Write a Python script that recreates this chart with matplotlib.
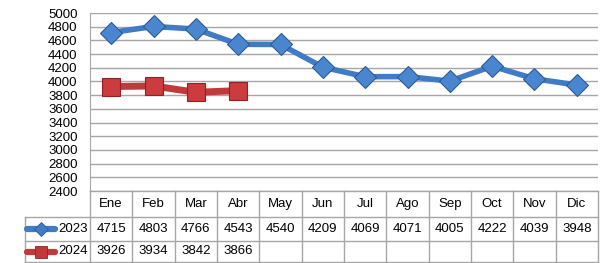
import matplotlib
matplotlib.use("Agg")
import matplotlib.pyplot as plt
from matplotlib.lines import Line2D

months = ["Ene", "Feb", "Mar", "Abr", "May", "Jun", "Jul", "Ago", "Sep", "Oct", "Nov", "Dic"]
v2023 = [4715, 4803, 4766, 4543, 4540, 4209, 4069, 4071, 4005, 4222, 4039, 3948]
v2024 = [3926, 3934, 3842, 3866]
series_names = ["2023", "2024"]
yticks = list(range(2400, 5001, 200))

plt.rcParams['font.family'] = ['Liberation Sans', 'DejaVu Sans']

W, H = 604, 263
fig = plt.figure(figsize=(W / 100, H / 100), dpi=100)

# pixel layout
left, right, top, bottom = 90, 598, 13, 191
ax = fig.add_axes([left / W, 1 - bottom / H, (right - left) / W, (bottom - top) / H])

blue, blue_edge = "#3F7CC5", "#2C5C96"
red, red_edge = "#C0393B", "#8E2325"

x = list(range(len(months)))
ax.plot(x, v2023, color=blue, lw=4, marker="D", ms=11.5, mfc="#4A86D0", mec=blue_edge,
        mew=0.8, solid_capstyle="round", zorder=3)
ax.plot(x[:len(v2024)], v2024, color=red, lw=5, marker="s", ms=13, mfc="#CC3B3D", mec=red_edge,
        mew=0.8, zorder=3)

ax.set_xlim(-0.5, len(months) - 0.5)
ax.set_ylim(2400, 5000)
ax.set_yticks(yticks)
ax.set_xticks([])
ax.tick_params(axis="y", length=0, pad=9, labelsize=9.5)
ax.grid(axis="y", color="#A6A6A6", lw=1)
ax.set_axisbelow(True)
for s in ["top", "right", "bottom"]:
    ax.spines[s].set_visible(False)
ax.spines["left"].set_color("#A6A6A6")

# data table below the plot
tleft = 25
tab = fig.add_axes([0, 0, 1, 1], facecolor="none")
tab.set_xlim(0, W)
tab.set_ylim(H, 0)
tab.axis("off")
colw = (right - left) / len(months)
rows = [191, 217, 241, 262]
lc = "#A6A6A6"
# horizontal lines
tab.plot([left, right], [rows[0], rows[0]], color=lc, lw=1)
for yy in rows[1:]:
    tab.plot([tleft, right], [yy, yy], color=lc, lw=1)
tab.plot([tleft, tleft], [rows[1], rows[3]], color=lc, lw=1)
for i in range(len(months) + 1):
    xx = left + i * colw
    tab.plot([xx, xx], [rows[0], rows[3]], color=lc, lw=1)

for i, m in enumerate(months):
    cx = left + (i + 0.5) * colw
    tab.text(cx, (rows[0] + rows[1]) / 2, m, ha="center", va="center", fontsize=9.5)
    tab.text(cx, (rows[1] + rows[2]) / 2, str(v2023[i]), ha="center", va="center", fontsize=9.5)
    if i < len(v2024):
        tab.text(cx, (rows[2] + rows[3]) / 2, str(v2024[i]), ha="center", va="center", fontsize=9.5)

# legend keys in the row headers
for k, (name, c, ec, mk, ms) in enumerate([(series_names[0], blue, blue_edge, "D", 7),
                                            (series_names[1], red, red_edge, "s", 8)]):
    yy = (rows[k + 1] + rows[k + 2]) / 2
    tab.add_line(Line2D([tleft + 2, tleft + 30], [yy, yy], color=c, lw=4.5,
                        solid_capstyle="round"))
    tab.plot([tleft + 16], [yy], marker=mk, ms=ms, color=c, mec=ec, mew=0.6)
    tab.text(left - 2, yy, name, ha="right", va="center", fontsize=9.5)

fig.savefig("out.png", dpi=100)
